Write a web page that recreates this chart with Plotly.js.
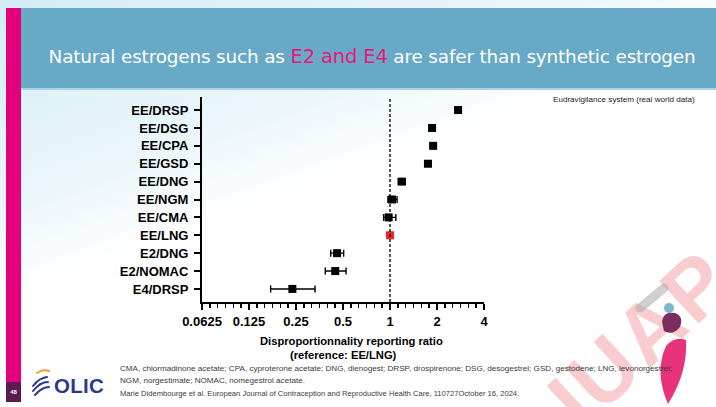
<!DOCTYPE html>
<html>
<head>
<meta charset="utf-8">
<script src="https://cdn.plot.ly/plotly-3.0.1.min.js"></script>
<style>
html,body{margin:0;padding:0;width:716px;height:407px;overflow:hidden;background:#fff;}
#bg{position:absolute;left:0;top:0;width:716px;height:407px;background:linear-gradient(160deg,#d4ecf7 0%,#eaf6fb 30%,#ffffff 45%);}
#band{position:absolute;left:20px;top:8px;width:696px;height:80px;background:#67a9c6;border-bottom:2px solid #a9d3e6;}
#title{position:absolute;left:24px;top:45px;width:696px;text-align:center;font-family:"DejaVu Sans",Verdana,sans-serif;font-size:18.4px;color:#fff;letter-spacing:-0.15px;white-space:nowrap;}
#title span{color:#e8197a;font-size:19.5px;}
#mag{position:absolute;left:6px;top:8px;width:15px;height:374px;background:#e4007d;}
#pg{position:absolute;left:6px;top:382px;width:15px;height:20px;background:#5c1c50;color:#fff;font-family:"Liberation Sans",Arial,sans-serif;font-size:6px;font-weight:bold;text-align:center;line-height:20px;}
#chart{position:absolute;left:0;top:0;width:716px;height:407px;}
.fn{position:absolute;left:120px;font-family:"Liberation Sans",Arial,sans-serif;color:#3a3a3a;white-space:nowrap;}
#eu{position:absolute;left:553px;top:95px;font-family:"Liberation Sans",Arial,sans-serif;font-size:8.1px;color:#222;white-space:nowrap;}
#olic{position:absolute;left:54px;top:374px;font-family:"Liberation Sans",Arial,sans-serif;font-size:20.5px;font-weight:bold;color:#2d3a8c;letter-spacing:0.3px;}
#wm{position:absolute;left:0;top:0;width:716px;height:407px;pointer-events:none;}
</style>
</head>
<body>
<div id="bg"></div>
<div id="band"></div>
<div id="title">Natural estrogens such as <span>E2 and E4</span> are safer than synthetic estrogen</div>
<div id="mag"></div>
<div id="pg">48</div>
<div id="eu">Eudravigilance system (real world data)</div>
<div id="chart"></div>
<svg id="wm" width="716" height="407">
  <text x="0" y="0" transform="translate(582,432) rotate(-43)" font-family="Liberation Sans,Arial,sans-serif" font-weight="bold" font-size="84" fill="rgba(236,90,100,0.30)" letter-spacing="3">IUAP</text>
  <path d="M640 308 L664 288" stroke="rgba(170,170,170,0.55)" stroke-width="9" stroke-linecap="round"/>
  <circle cx="669" cy="308" r="5" fill="#7fb6cf"/>
  <path d="M662 322 Q663 311 675 313 Q684 316 680 327 Q673 336 664 331 Z" fill="#7a2d5e"/>
  <path d="M668 404 Q654 372 666 346 Q675 336 686 340 Q688 372 668 404 Z" fill="#e8327a"/>
  <g fill="none" stroke-linecap="round">
    <path d="M33 386 Q39 378 47 377" stroke="#2d3a8c" stroke-width="2"/>
    <path d="M33 391 Q40 382 48 382" stroke="#2d3a8c" stroke-width="2"/>
    <path d="M35 395 Q42 387 49 387" stroke="#2d3a8c" stroke-width="2"/>
    <path d="M37 373 Q43 369 49 371" stroke="#f0a030" stroke-width="2"/>
  </g>
</svg>
<div class="fn" style="top:364px;font-size:8.1px;">CMA, chlormadinone acetate; CPA, cyproterone acetate; DNG, dienogest; DRSP, drospirenone; DSG, desogestrel; GSD, gestodene; LNG, levonorgestrel;</div>
<div class="fn" style="top:376px;font-size:8.1px;">NGM, norgestimate; NOMAC, nomegestrol acetate.</div>
<div class="fn" style="top:389px;font-size:7.6px;">Marie Didembourge et al. European Journal of Contraception and Reproductive Health Care, 110727October 16, 2024.</div>
<div id="olic">OLIC</div>
<script>
var labels = ['EE/DRSP','EE/DSG','EE/CPA','EE/GSD','EE/DNG','EE/NGM','EE/CMA','EE/LNG','E2/DNG','E2/NOMAC','E4/DRSP'];
var ratio  = [2.73, 1.86, 1.89, 1.75, 1.19, 1.03, 0.98, 1.00, 0.458, 0.446, 0.237];
var ciLow  = [2.62, 1.79, 1.82, 1.68, 1.13, 0.97, 0.91, 1.00, 0.417, 0.385, 0.172];
var ciHigh = [2.84, 1.94, 1.96, 1.82, 1.25, 1.11, 1.09, 1.00, 0.505, 0.523, 0.331];
var refLabel = 'EE/LNG';
var refValue = 1;
var tickVals = [0.0625, 0.125, 0.25, 0.5, 1, 2, 4];
var tickText = ['0.0625', '0.125', '0.25', '0.5', '1', '2', '4'];

var plus = ratio.map(function(v,i){return ciHigh[i]-v;});
var minus = ratio.map(function(v,i){return v-ciLow[i];});
var colors = labels.map(function(l){return l===refLabel ? '#e8262b' : '#000000';});

var minorVals = [];
for (var k = -24; k <= 12; k++) { if (k % 6 !== 0) minorVals.push(Math.pow(2, k/6)); }

var traces = [
  {x:[refValue, refValue], y:[0,1], yaxis:'y2', mode:'lines', line:{color:'#000', width:1.3, dash:'3px,2px'}, hoverinfo:'skip', showlegend:false},
  {x: ratio, y: labels, type:'scatter', mode:'markers',
   marker:{symbol:'square', size:8, color:colors},
   error_x:{type:'data', symmetric:false, array:plus, arrayminus:minus, color:'#000', thickness:1.4, width:3.5},
   showlegend:false}
];

var layout = {
  width:716, height:407,
  margin:{l:202, r:232, t:97, b:105},
  paper_bgcolor:'rgba(0,0,0,0)', plot_bgcolor:'rgba(0,0,0,0)',
  xaxis:{type:'log', range:[Math.log10(0.0625), Math.log10(4)], tickvals:tickVals, ticktext:tickText,
    showline:true, linecolor:'#000', linewidth:2, ticks:'outside', ticklen:6, tickwidth:2, tickcolor:'#000',
    showgrid:false, zeroline:false,
    tickfont:{family:'Liberation Sans, Arial, sans-serif', size:13, color:'#000', weight:'bold'},
    minor:{tickvals:minorVals, ticks:'outside', ticklen:3.5, tickwidth:1.5, tickcolor:'#000', showgrid:false}},
  yaxis:{type:'category', categoryarray:labels, range:[10.73, -0.73], showline:true, linecolor:'#000', linewidth:2,
    ticks:'outside', ticklen:6, tickwidth:2, tickcolor:'#000', showgrid:false, zeroline:false, ticklabelstandoff:3,
    tickfont:{family:'Liberation Sans, Arial, sans-serif', size:13, color:'#000', weight:'bold'}},
  yaxis2:{overlaying:'y', range:[0,1], visible:false, fixedrange:true},
  annotations:[
    {xref:'paper', yref:'paper', x:0.53, y:-0.19, yanchor:'middle', showarrow:false,
     text:'Disproportionnality reporting ratio', font:{family:'Liberation Sans, Arial, sans-serif', size:11.2, color:'#000', weight:'bold'}},
    {xref:'paper', yref:'paper', x:0.50, y:-0.258, yanchor:'middle', showarrow:false,
     text:'(reference: EE/LNG)', font:{family:'Liberation Sans, Arial, sans-serif', size:11.2, color:'#000', weight:'bold'}}
  ]
};

Plotly.newPlot('chart', traces, layout, {displayModeBar:false, staticPlot:true});
</script>
</body>
</html>
